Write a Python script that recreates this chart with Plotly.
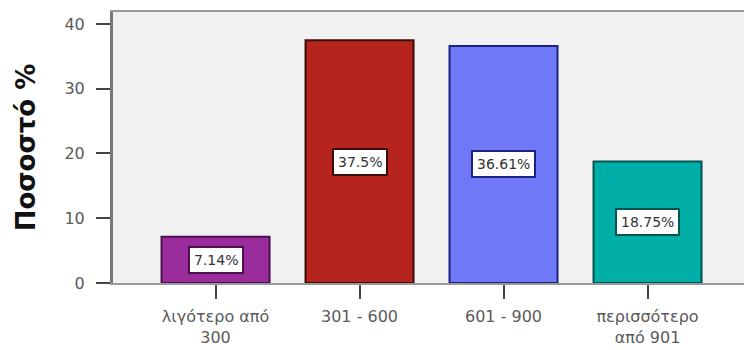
import plotly.graph_objects as go

# Income bands and share of respondents (%)
categories = ["λιγότερο από<br>300", "301 - 600", "601 - 900", "περισσότερο<br>από 901"]
values = [7.14, 37.5, 36.61, 18.75]
value_labels = ["7.14%", "37.5%", "36.61%", "18.75%"]
y_ticks = [0, 10, 20, 30, 40]

fill_colors = ["#9a2c9c", "#b5251d", "#6f78f7", "#00aea8"]
edge_colors = ["#4a0f4c", "#3c0c0a", "#1c2280", "#035350"]

fig = go.Figure()
fig.add_trace(go.Bar(
    x=categories,
    y=values,
    width=0.75,
    marker=dict(color=fill_colors, line=dict(color=edge_colors, width=2)),
    hoverinfo="skip",
))

for cat, val, lab, ec in zip(categories, values, value_labels, edge_colors):
    fig.add_annotation(
        x=cat, y=val / 2, text=lab, showarrow=False,
        font=dict(family="DejaVu Sans", size=14, color="#333333"),
        bgcolor="white", bordercolor=ec, borderwidth=2, borderpad=4,
    )

fig.update_layout(
    width=744, height=350,
    margin=dict(l=113, r=0, t=12, b=67),
    paper_bgcolor="white",
    plot_bgcolor="#f1f1f1",
    showlegend=False,
    font=dict(family="DejaVu Sans", color="#555555"),
    bargap=0.25,
)

fig.update_xaxes(
    range=[-0.712, 3.67],
    showline=True, linecolor="#999999", linewidth=2, mirror=True,
    ticks="outside", ticklen=14, tickwidth=2, tickcolor="#444444",
    tickfont=dict(size=16, color="#5a5a5a"),
    ticklabelstandoff=4,
    showgrid=False, zeroline=False,
)
fig.update_yaxes(
    range=[0, 41.85],
    tickvals=y_ticks,
    showline=True, linecolor="#777777", linewidth=3,
    ticks="outside", ticklen=14, tickwidth=2, tickcolor="#444444",
    tickfont=dict(size=16, color="#5a5a5a"),
    ticklabelstandoff=8,
    showgrid=False, zeroline=False,
    title=dict(text="<b>Ποσοστό %</b>", font=dict(size=26, color="#111111"), standoff=22),
)

fig.write_html("out.html")
